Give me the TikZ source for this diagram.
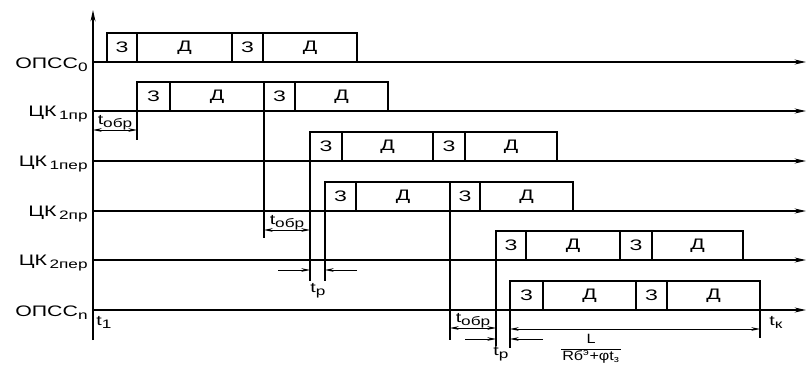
\documentclass[tikz,border=0pt]{standalone}
\usepackage{fontspec}
\setmainfont[FakeStretch=1.2]{Liberation Sans}
\newfontfamily\widefont[FakeStretch=1.4]{Liberation Sans}
\usetikzlibrary{arrows.meta,positioning}
\newcommand{\lowidx}[1]{\raisebox{-2.5pt}{\fontsize{10.5}{11}\selectfont #1}}
\tikzset{
  lane/.style={-{Stealth[length=3.4mm,width=1.5mm]}, line width=1.1pt},
  cell/.style={draw, line width=1.4pt, minimum height=8.7mm, inner sep=0pt,
               outer sep=0pt, anchor=south west, font=\widefont\fontsize{13}{14}\selectfont},
  lanelbl/.style={anchor=east, inner sep=1pt, font=\widefont\fontsize{13}{14}\selectfont},
  tick/.style={line width=0.9pt},
  dim/.style={{Stealth[length=2.6mm,width=1.1mm]}-{Stealth[length=2.6mm,width=1.1mm]}, line width=0.7pt},
  half/.style={-{Stealth[length=2.6mm,width=1.1mm]}, line width=0.7pt},
  tlbl/.style={inner sep=1pt, font=\widefont\fontsize{12}{14}\selectfont},
}
\begin{document}
\begin{tikzpicture}[x=0.03cm, y=-0.03cm]
  \useasboundingbox (0,0) rectangle (806,365);
  % time axis
  \coordinate (ax0) at (93,340);
  \coordinate (ax1) at (93,10);
  \draw[lane] (ax0) -- (ax1);
  % lanes with frames: number / line / edges / label
  \foreach \n/\y/\a/\b/\c/\d/\e/\lbl in {
      1/62/107/137/232/263/357/{ОПСС\lowidx{0}},
      2/111/137/170/264/295/388/{ЦК\,\lowidx{1пр}},
      3/161/310/342/433/465/557/{ЦК\,\lowidx{1пер}},
      4/211/325/356/450/480/573/{ЦК\,\lowidx{2пр}},
      5/260/496/526/620/652/743/{ЦК\,\lowidx{2пер}},
      6/310/510/543/636/667/760/{ОПСС\lowidx{n}}} {
    \coordinate (o\n) at (93,\y);
    \coordinate (e\n) at (806,\y);
    \draw[lane] (o\n) -- (e\n);
    \node[lanelbl] (l\n) at (89,\y+3) {\lbl};
    \node[cell, minimum width={(\b-\a)*0.03cm}] (z\n a) at (\a,\y) {З};
    \node[cell, minimum width={(\c-\b)*0.03cm}] (d\n a) at (\b,\y) {Д};
    \node[cell, minimum width={(\d-\c)*0.03cm}] (z\n b) at (\c,\y) {З};
    \node[cell, minimum width={(\e-\d)*0.03cm}] (d\n b) at (\d,\y) {Д};
  }
  % extension lines
  \foreach \n/\x/\ya/\yb in {1/137/111/140, 2/264/111/238, 3/310/161/281,
      4/325/211/281, 5/450/211/340, 6/496/260/346, 7/510/310/348, 8/760/310/338} {
    \coordinate (t\n a) at (\x,\ya);
    \coordinate (t\n b) at (\x,\yb);
    \draw[tick] (t\n a) -- (t\n b);
  }
  % intervals
  \coordinate (m1) at (93,130);
  \coordinate (m2) at (264,230);
  \coordinate (m3) at (278,270);
  \coordinate (m4) at (357,270);
  \coordinate (m5) at (450,328);
  \coordinate (m6) at (465,339);
  \coordinate (m7) at (543,339);
  \coordinate (m8) at (510,329);
  \draw[dim] (m1) -- (m1 -| t1a) node[tlbl, midway, above=-1pt] (obr1) {t\lowidx{обр}};
  \draw[dim] (m2) -- (m2 -| t3a) node[tlbl, midway, above=-1pt] (obr2) {t\lowidx{обр}};
  \draw[half] (m3) -- (m3 -| t3a);
  \draw[half] (m4) -- (m4 -| t4a);
  \node[tlbl] (tp1) at (318,291) {t\lowidx{р}};
  \draw[dim] (m5) -- (m5 -| t6a) node[tlbl, midway, above=-1pt] (obr3) {t\lowidx{обр}};
  \draw[half] (m6) -- (m6 -| t6a);
  \draw[half] (m7) -- (m7 -| t7a);
  \node[tlbl] (tp2) at (501,354) {t\lowidx{р}};
  \draw[dim] (m8) -- (m8 -| t8a);
  % fraction
  \node[tlbl, font=\fontsize{11.5}{12}\selectfont] (fnum) at (591,339) {L};
  \node[tlbl, font=\fontsize{11.5}{12}\selectfont, below=3.5pt of fnum] (fden)
    {Rб\textsuperscript{э}+φt\textsubscript{з}};
  \draw[line width=0.8pt] (fden.north west) -- (fden.north east);
  \node[tlbl, anchor=west] (t1) at (95,322) {t\lowidx{1}};
  \node[tlbl, anchor=west] (tk) at (768,322) {t\lowidx{к}};
\end{tikzpicture}
\end{document}
